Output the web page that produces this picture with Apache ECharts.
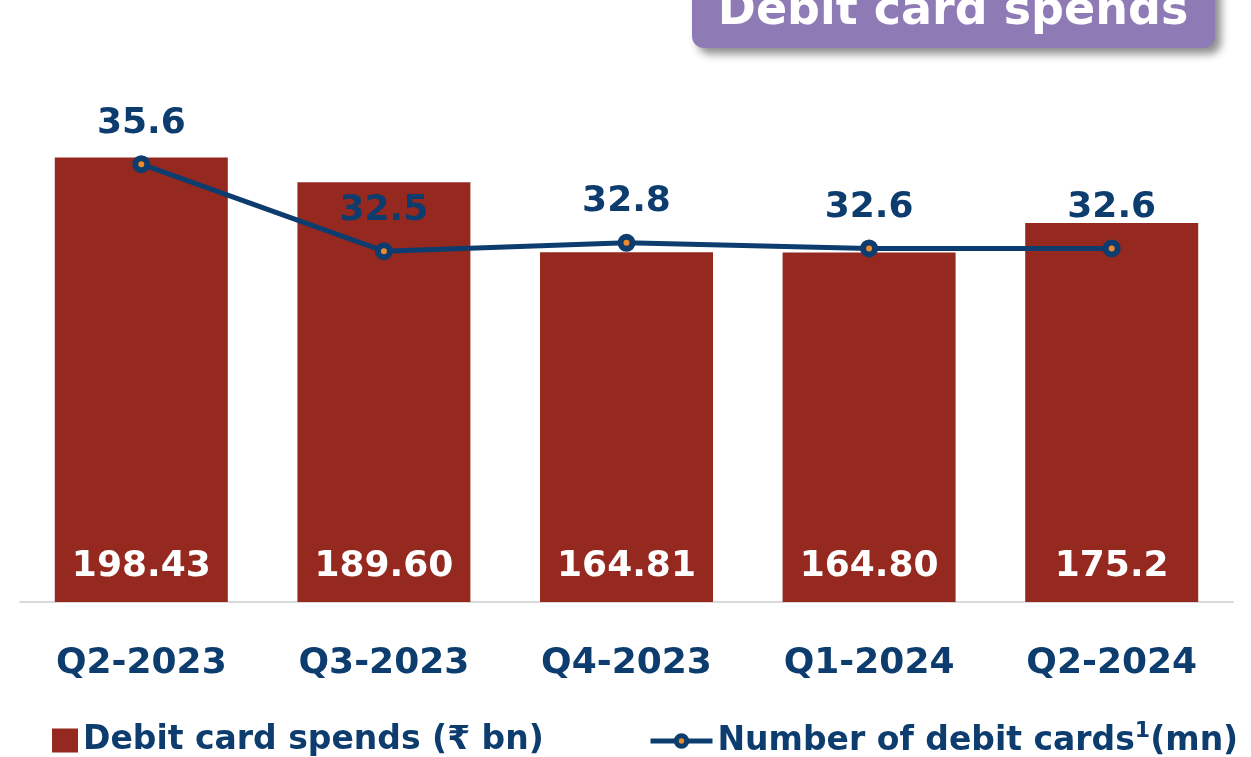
<!DOCTYPE html>
<html>
<head>
<meta charset="utf-8">
<script src="https://cdn.jsdelivr.net/npm/echarts@6/dist/echarts.min.js"></script>
<style>
  html, body { margin: 0; padding: 0; background: #fff; }
  #main { width: 1251px; height: 757px; }
</style>
</head>
<body>
<div id="main"></div>
<script>
// data
var quarters = ['Q2-2023', 'Q3-2023', 'Q4-2023', 'Q1-2024', 'Q2-2024'];
var spends = [198.43, 189.60, 164.81, 164.80, 175.2];
var spendLabels = ['198.43', '189.60', '164.81', '164.80', '175.2'];
var cards = [35.6, 32.5, 32.8, 32.6, 32.6];

var navy = '#0d3c6e';
var red = '#952920';
var orange = '#ee8a2a';
var font = 'DejaVu Sans';

var chart = echarts.init(document.getElementById('main'));

var option = {
  animation: false,
  grid: { left: 20, right: 18, top: 153, bottom: 155 },
  legend: [
    {
      data: ['Debit card spends (₹ bn)'],
      left: 47, top: 719,
      itemWidth: 26, itemHeight: 24, itemGap: 6,
      icon: 'rect',
      textStyle: { color: navy, fontFamily: font, fontWeight: 'bold', fontSize: 33 }
    },
    {
      data: ['Number of debit cards'],
      left: 643, top: 715,
      itemWidth: 62, itemHeight: 13, itemGap: 2,
      lineStyle: { color: navy, width: 5 },
      itemStyle: { color: orange, borderColor: navy, borderWidth: 5 },
      formatter: function (n) { return '{a|' + n + '}{s|1}{a|(mn)}'; },
      textStyle: {
        color: navy, fontFamily: font, fontWeight: 'bold', fontSize: 33,
        rich: {
          a: { color: navy, fontFamily: font, fontWeight: 'bold', fontSize: 33 },
          s: { color: navy, fontFamily: font, fontWeight: 'bold', fontSize: 22, verticalAlign: 'top', padding: [0, 0, 20, 0] }
        }
      }
    }
  ],
  xAxis: {
    type: 'category',
    data: quarters,
    axisTick: { show: false },
    axisLine: { lineStyle: { color: '#d9d9d9', width: 2 } },
    axisLabel: { color: navy, fontFamily: font, fontWeight: 'bold', fontSize: 36, margin: 44 }
  },
  yAxis: [
    { type: 'value', min: 41, max: 200, show: false },
    { type: 'value', min: 20, max: 36, show: false }
  ],
  series: [
    {
      name: 'Debit card spends (₹ bn)',
      type: 'bar',
      data: spends,
      barWidth: 173,
      itemStyle: { color: red },
      label: {
        show: true, position: 'insideBottom', distance: 17,
        color: '#fff', fontFamily: font, fontWeight: 'bold', fontSize: 36,
        formatter: function (p) { return spendLabels[p.dataIndex]; }
      }
    },
    {
      name: 'Number of debit cards',
      type: 'line',
      yAxisIndex: 1,
      data: cards,
      symbol: 'circle',
      symbolSize: 12,
      lineStyle: { color: navy, width: 5 },
      itemStyle: { color: orange, borderColor: navy, borderWidth: 6 },
      label: {
        show: true, position: 'top', distance: 14,
        color: navy, fontFamily: font, fontWeight: 'bold', fontSize: 36,
        formatter: function (p) { return p.value.toFixed(1); }
      }
    }
  ],
  graphic: [
    {
      type: 'rect',
      shape: { x: 692, y: -30, width: 523, height: 78, r: 12 },
      style: {
        fill: '#8e7bb6',
        shadowBlur: 8, shadowOffsetX: 6, shadowOffsetY: 6, shadowColor: 'rgba(0,0,0,0.45)'
      }
    },
    {
      type: 'text',
      x: 953, y: 35,
      style: {
        text: 'Debit card spends',
        fill: '#fff', font: 'bold 46px "DejaVu Sans"',
        align: 'center', verticalAlign: 'bottom'
      }
    }
  ]
};

chart.setOption(option);
</script>
</body>
</html>
